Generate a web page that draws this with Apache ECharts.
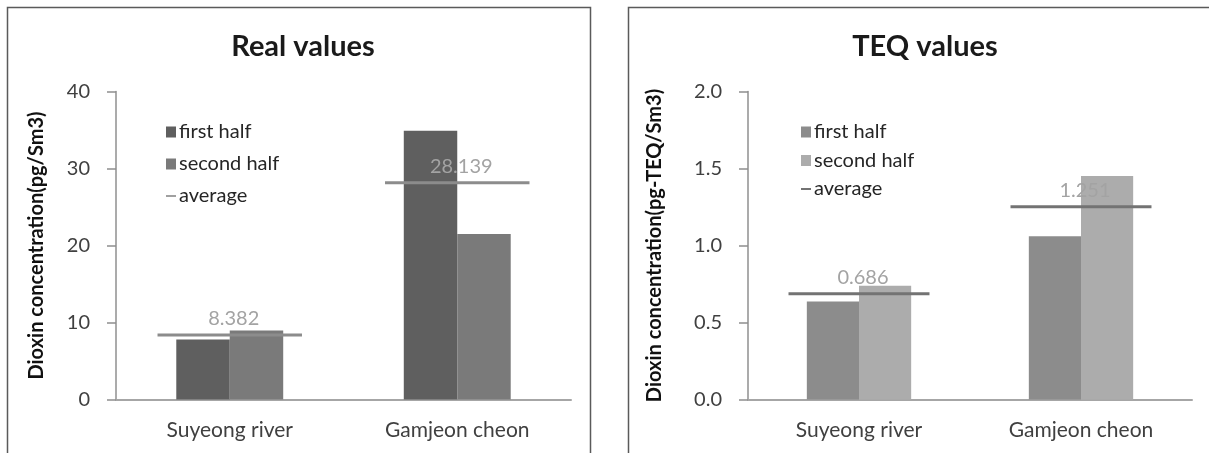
<!DOCTYPE html>
<html>
<head>
<meta charset="utf-8">
<script src="https://cdn.jsdelivr.net/npm/echarts@6/dist/echarts.min.js"></script>
<style>
html,body{margin:0;padding:0;background:#fff;}
#c{width:1209px;height:453px;}
</style>
</head>
<body>
<div id="c"></div>
<script>
var categories = ['Suyeong river', 'Gamjeon cheon'];
var legendNames = ['first half', 'second half', 'average'];

var realFirst = [7.8, 34.9];
var realSecond = [8.95, 21.5];
var realAverage = [8.382, 28.139];
var realTicks = [0, 10, 20, 30, 40];

var teqFirst = [0.637, 1.06];
var teqSecond = [0.739, 1.452];
var teqAverage = [0.686, 1.251];
var teqTicks = ['0.0', '0.5', '1.0', '1.5', '2.0'];

var FONT = 'Lato';
var AVG_WIDTH = 0.635;

function avgSeries(name, values, xIdx, color, labelColor) {
  return {
    type: 'custom', name: name, xAxisIndex: xIdx, yAxisIndex: xIdx, z: 5,
    data: values.map(function (v, i) { return [i, v]; }),
    renderItem: function (params, api) {
      var p = api.coord([api.value(0), api.value(1)]);
      var w = api.size([1, 0])[0] * AVG_WIDTH;
      return {
        type: 'group',
        children: [
          { type: 'line', shape: { x1: p[0] - w / 2, y1: p[1], x2: p[0] + w / 2, y2: p[1] },
            style: { stroke: color, lineWidth: 3 } },
          { type: 'text', x: p[0] + 4, y: p[1] - 16,
            style: { text: values[params.dataIndex].toFixed(3), fill: labelColor,
              font: '20px ' + FONT, align: 'center', verticalAlign: 'middle' } }
        ]
      };
    }
  };
}

var lineIcon = 'path://M0,0L0,0M0,4.5L10,4.5L10,6.5L0,6.5ZM10,11L10,11';

function yAxis(gi, name, ticks, gap) {
  return {
    type: 'value', gridIndex: gi, min: 0, max: Number(ticks[ticks.length - 1]),
    interval: Number(ticks[1]) - Number(ticks[0]),
    name: name, nameLocation: 'middle', nameGap: gap,
    nameTextStyle: { fontFamily: FONT, fontWeight: 'bold', fontSize: 20, color: '#111' },
    axisLine: { show: true, lineStyle: { color: '#8f8f8f', width: 1.5 } },
    axisTick: { show: true, length: 9, lineStyle: { color: '#8f8f8f', width: 1.5 } },
    splitLine: { show: false },
    axisLabel: {
      margin: 26, fontFamily: FONT, fontSize: 20, color: '#404040',
      formatter: function (v) {
        var idx = ticks.map(Number).indexOf(Math.round(v * 1000) / 1000);
        return idx >= 0 ? String(ticks[idx]) : '';
      }
    }
  };
}

function xAxis(gi) {
  return {
    type: 'category', gridIndex: gi, data: categories,
    axisLine: { show: true, lineStyle: { color: '#a6a6a6', width: 2 } },
    axisTick: { show: false },
    axisLabel: { margin: 20, fontFamily: FONT, fontSize: 21, color: '#404040' }
  };
}

var chart = echarts.init(document.getElementById('c'), null, { renderer: 'canvas' });
chart.setOption({
  animation: false,
  backgroundColor: '#fff',
  title: [
    { text: 'Real values', left: 298, top: 27, textAlign: 'center',
      textStyle: { fontFamily: FONT, fontWeight: 'bold', fontSize: 29, color: '#1a1a1a' } },
    { text: 'TEQ values', left: 920, top: 27, textAlign: 'center',
      textStyle: { fontFamily: FONT, fontWeight: 'bold', fontSize: 29, color: '#1a1a1a' } }
  ],
  graphic: [
    { type: 'rect', shape: { x: 7.5, y: 7.5, width: 583, height: 460 },
      style: { fill: 'none', stroke: '#5a5a5a', lineWidth: 1.5 }, silent: true },
    { type: 'rect', shape: { x: 628.5, y: 7.5, width: 600, height: 460 },
      style: { fill: 'none', stroke: '#5a5a5a', lineWidth: 1.5 }, silent: true }
  ],
  legend: [
    { orient: 'vertical', left: 161, top: 117, itemGap: 12,
      itemWidth: 10, itemHeight: 11,
      data: [{ name: legendNames[0], icon: 'rect' }, { name: legendNames[1], icon: 'rect' }, { name: legendNames[2], icon: lineIcon }],
      textStyle: { fontFamily: FONT, fontSize: 20, color: '#262626', padding: [0, 0, 0, -2] },
      selectedMode: false },
    { orient: 'vertical', left: 796, top: 117, itemGap: 8.5,
      itemWidth: 10, itemHeight: 11,
      data: [{ name: legendNames[0] + ' ', icon: 'rect' }, { name: legendNames[1] + ' ', icon: 'rect' }, { name: legendNames[2] + ' ', icon: lineIcon }],
      textStyle: { fontFamily: FONT, fontSize: 20, color: '#262626', padding: [0, 0, 0, -2] },
      selectedMode: false }
  ],
  grid: [
    { left: 116, top: 91.5, width: 455, height: 308 },
    { left: 748, top: 91.5, width: 444, height: 308 }
  ],
  xAxis: [xAxis(0), xAxis(1)],
  yAxis: [
    yAxis(0, 'Dioxin concentration(pg/Sm3)', realTicks, 69),
    yAxis(1, 'Dioxin concentration(pg-TEQ/Sm3)', teqTicks, 83)
  ],
  series: [
    { type: 'bar', name: legendNames[0], xAxisIndex: 0, yAxisIndex: 0, data: realFirst,
      barGap: '0%', barCategoryGap: '53%', itemStyle: { color: '#5f5f5f' } },
    { type: 'bar', name: legendNames[1], xAxisIndex: 0, yAxisIndex: 0, data: realSecond,
      barGap: '0%', barCategoryGap: '53%', itemStyle: { color: '#7a7a7a' } },
    Object.assign(avgSeries(legendNames[2], realAverage, 0, '#8c8c8c', '#a3a3a3'), { itemStyle: { color: '#a0a0a0' } }),
    { type: 'bar', name: legendNames[0] + ' ', xAxisIndex: 1, yAxisIndex: 1, data: teqFirst,
      barGap: '0%', barCategoryGap: '53%', itemStyle: { color: '#8c8c8c' } },
    { type: 'bar', name: legendNames[1] + ' ', xAxisIndex: 1, yAxisIndex: 1, data: teqSecond,
      barGap: '0%', barCategoryGap: '53%', itemStyle: { color: '#acacac' } },
    Object.assign(avgSeries(legendNames[2] + ' ', teqAverage, 1, '#737373', '#a3a3a3'), { itemStyle: { color: '#737373' } })
  ]
});
</script>
</body>
</html>
